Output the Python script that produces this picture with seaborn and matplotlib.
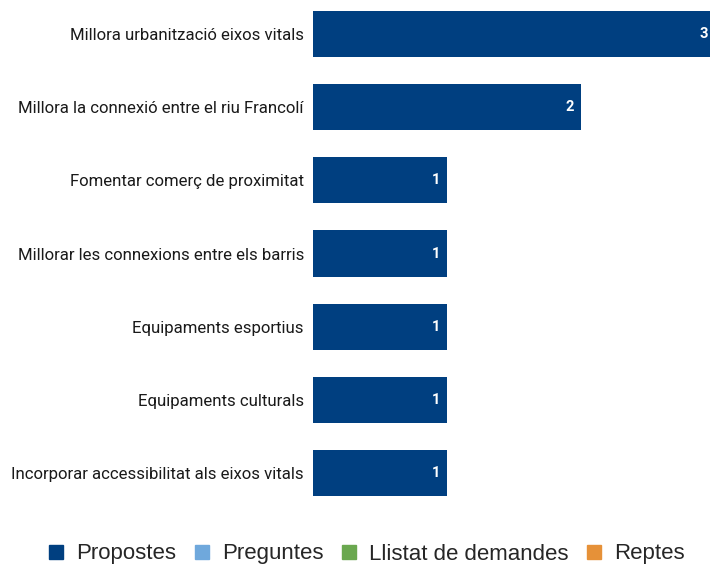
import matplotlib
matplotlib.use("Agg")
import matplotlib.pyplot as plt
from matplotlib.lines import Line2D
import seaborn as sns
import pandas as pd

categories = [
    "Millora urbanització eixos vitals",
    "Millora la connexió entre el riu Francolí",
    "Fomentar comerç de proximitat",
    "Millorar les connexions entre els barris",
    "Equipaments esportius",
    "Equipaments culturals",
    "Incorporar accessibilitat als eixos vitals",
]
values = [3, 2, 1, 1, 1, 1, 1]
legend_labels = ["Propostes", "Preguntes", "Llistat de demandes", "Reptes"]
legend_colors = ["#003f80", "#6fa8dc", "#6aa84f", "#e69138"]

df = pd.DataFrame({"cat": categories, "val": values})

sns.set_theme(style="white")
plt.rcParams["font.family"] = ["Roboto", "DejaVu Sans"]

W, H = 710, 564
fig = plt.figure(figsize=(W / 100, H / 100), dpi=100)
left = 313
right = 715
top = -2.6
bottom = 509.6
ax = fig.add_axes([left / W, 1 - bottom / H, (right - left) / W, (bottom - top) / H])

sns.barplot(data=df, x="val", y="cat", orient="h", color=legend_colors[0],
            saturation=1, width=0.63, ax=ax, edgecolor="none")
ax.set_xlim(0, 3)
ax.set_ylim(len(categories) - 0.5, -0.5)
ax.set_xlabel("")
ax.set_ylabel("")
ax.set_xticks([])
for s in ax.spines.values():
    s.set_visible(False)
ax.tick_params(axis="y", length=0, pad=6.5, labelsize=12.1, labelcolor="#1a1a1a")

for i, v in enumerate(values):
    ax.annotate(str(v), xy=(v, i), xytext=(-5, 0), textcoords="offset points",
                ha="right", va="center", color="white", fontsize=10.5, fontweight="bold")

handles = [Line2D([0], [0], marker="s", linestyle="none", markersize=10.5,
                  markerfacecolor=c, markeredgecolor=c) for c in legend_colors]
fig.legend(handles, legend_labels, loc="center", bbox_to_anchor=(366 / W, 1 - 554 / H),
           ncol=4, frameon=False, handlelength=0.8, handletextpad=0.5, columnspacing=0.75,
           borderaxespad=0, borderpad=0,
           prop={"family": ["Liberation Sans", "DejaVu Sans"], "size": 16})

fig.savefig("out.png", dpi=100)
